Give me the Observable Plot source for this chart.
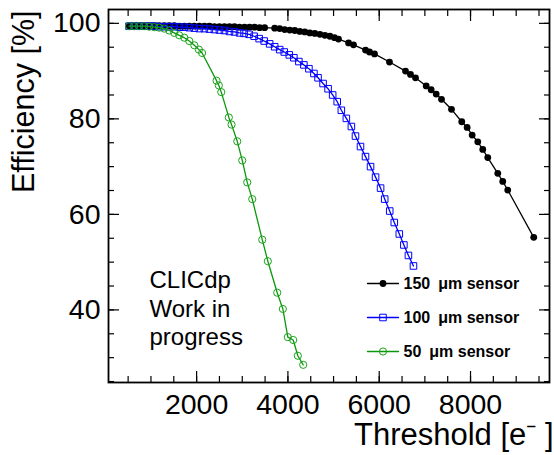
<!DOCTYPE html>
<html><head><meta charset="utf-8">
<script src="https://cdn.jsdelivr.net/npm/d3@7"></script>
<script src="https://cdn.jsdelivr.net/npm/@observablehq/plot@0.6"></script>
<style>
html,body{margin:0;padding:0;background:#fff;}
</style></head><body><div id="chart"></div>
<script>
// ---- data ----
const thr150 = [520,630,740,850,960,1070,1180,1290,1400,1510,1620,1730,1840,1950,2060,2170,2280,2390,2500,2610,2720,2830,2940,3050,3160,3270,3380,3490,3710,3820,3930,4040,4150,4260,4370,4480,4590,4700,4810,4920,5020,5108,5329,5437,5700,5787,5897,6225,6576,6685,6795,7029,7138,7248,7364,7583,7808,7926,8036,8159,8268,8378,8597,8706,8815,9385];
const eff150 = [99.5,99.5,99.5,99.5,99.5,99.5,99.5,99.5,99.5,99.5,99.4,99.4,99.4,99.4,99.4,99.4,99.4,99.3,99.3,99.3,99.3,99.3,99.2,99.2,99.2,99.2,99.1,99.1,99.0,98.9,98.7,98.6,98.5,98.3,98.2,98.0,97.9,97.7,97.5,97.3,97.0,96.7,95.9,95.5,94.4,94.0,93.6,91.9,90.0,89.3,88.6,86.9,86.1,85.2,84.1,82.0,79.4,78.2,76.6,75.2,73.6,71.9,68.6,66.9,65.1,55.2];

const thr100 = [520,630,740,850,960,1070,1180,1290,1400,1510,1620,1730,1840,1950,2060,2170,2280,2390,2500,2610,2720,2830,2940,3040,3150,3260,3370,3480,3600,3710,3820,3920,4030,4130,4240,4350,4460,4570,4660,4770,4880,4980,5080,5170,5280,5390,5480,5590,5700,5810,5920,6030,6120,6230,6330,6440,6540,6640,6750];
const eff100 = [99.4,99.4,99.4,99.4,99.4,99.4,99.3,99.3,99.3,99.3,99.2,99.2,99.1,99.0,98.9,98.9,98.8,98.7,98.6,98.5,98.3,98.2,98.0,97.9,97.7,97.3,96.8,96.3,95.7,95.1,94.5,94.0,93.4,92.8,92.0,91.3,90.5,89.5,88.6,87.4,86.3,85.0,83.6,81.8,80.1,78.4,76.4,74.2,72.1,70.0,67.8,65.5,63.2,60.7,58.3,55.9,53.6,51.4,49.2];

const thr50 = [520,630,740,850,960,1070,1180,1290,1400,1510,1620,1730,1840,1950,2050,2120,2437,2487,2540,2706,2765,2890,3000,3109,3219,3438,3560,3766,3889,3998,4116,4217,4335];
const eff50 = [99.4,99.4,99.4,99.4,99.3,99.2,99.1,98.9,98.5,98.0,97.5,97.0,96.3,95.4,94.5,93.8,88.0,87.0,85.6,80.3,78.8,75.3,71.3,66.7,63.2,54.7,50.2,43.6,40.2,34.3,33.7,30.4,28.5];

const seriesNames = ["150\u2002\u03bcm sensor", "100\u2002\u03bcm sensor", "50\u2002\u03bcm sensor"];
const xMajorTicks = [2000, 4000, 6000, 8000];
const xMinorTicks = [500,1000,1500,2000,2500,3000,3500,4000,4500,5000,5500,6000,6500,7000,7500,8000,8500,9000,9500];
const yMajorTicks = [40, 60, 80, 100];
const yMinorTicks = [25,30,35,40,45,50,55,60,65,70,75,80,85,90,95,100];
const noteLines = ["CLICdp", "Work in", "progress"];
const xTitle = "Threshold [e\u207b ]";
const yTitle = "Efficiency [%]";

// ---- styles ----
const styles = [
  {color: "#000000", symbol: "circle", fill: "#000000", stroke: "none", r: 3.4},
  {color: "#0000ff", symbol: "square", fill: "none", stroke: "#0000ff", r: 3.7},
  {color: "#0b990b", symbol: "circle", fill: "none", stroke: "#1aa31a", r: 3.6}
];
const seriesData = [[thr150, eff150], [thr100, eff100], [thr50, eff50]].map(([t, e], k) =>
  t.map((v, i) => ({series: seriesNames[k], thr: v, eff: e[i]})));

const hline = {draw(ctx, l) { ctx.moveTo(-l / 2, 0); ctx.lineTo(l / 2, 0); }};

const seriesMarks = seriesData.flatMap((rows, k) => {
  const s = styles[k];
  return [
    Plot.line(rows, {x: "thr", y: "eff", stroke: s.color, strokeWidth: 1.3}),
    Plot.dot(rows, {x: "thr", y: "eff", symbol: s.symbol, r: s.r, fill: s.fill, stroke: s.stroke, strokeWidth: 1})
  ];
});

const legendMarks = seriesNames.flatMap((name, k) => {
  const s = styles[k];
  const dy = 274 + k * 34;
  return [
    Plot.vector([name], {frameAnchor: "top-left", dx: 274.5, dy, length: 31, anchor: "start", shape: hline, stroke: s.color, strokeWidth: 1.3}),
    Plot.dot([name], {frameAnchor: "top-left", dx: 274.5, dy, symbol: s.symbol, r: s.r, fill: s.fill, stroke: s.stroke, strokeWidth: 1}),
    Plot.text([name], {frameAnchor: "top-left", dx: 295, dy, textAnchor: "start", lineAnchor: "middle", fontWeight: "bold", fontSize: 16, fill: "#000"})
  ];
});

const fmt = d => String(d);

const chart = Plot.plot({
  width: 554,
  height: 455,
  marginLeft: 108,
  marginRight: 5,
  marginTop: 9,
  marginBottom: 73,
  style: {fontFamily: "'Liberation Sans', Arial, Helvetica, sans-serif", background: "#fff", color: "#000"},
  x: {domain: [70, 9730], axis: null},
  y: {domain: [24.8, 102.9], axis: null},
  marks: [
    ...seriesMarks,
    // tick marks (inside the frame, all four sides)
    Plot.axisX(xMinorTicks, {anchor: "bottom", tickSize: 6, dy: -6, fill: "none", label: null, strokeWidth: 1.2}),
    Plot.axisX(xMajorTicks, {anchor: "bottom", tickSize: 11, dy: -11, fill: "none", label: null, strokeWidth: 1.2}),
    Plot.axisX(xMinorTicks, {anchor: "top", tickSize: 6, dy: 6, fill: "none", label: null, strokeWidth: 1.2}),
    Plot.axisX(xMajorTicks, {anchor: "top", tickSize: 11, dy: 11, fill: "none", label: null, strokeWidth: 1.2}),
    Plot.axisY(yMinorTicks, {anchor: "left", tickSize: 6, dx: 6, fill: "none", label: null, strokeWidth: 1.2}),
    Plot.axisY(yMajorTicks, {anchor: "left", tickSize: 11, dx: 11, fill: "none", label: null, strokeWidth: 1.2}),
    Plot.axisY(yMinorTicks, {anchor: "right", tickSize: 6, dx: -6, fill: "none", label: null, strokeWidth: 1.2}),
    Plot.axisY(yMajorTicks, {anchor: "right", tickSize: 11, dx: -11, fill: "none", label: null, strokeWidth: 1.2}),
    // tick labels
    Plot.axisX(xMajorTicks, {anchor: "bottom", tickSize: 0, tickPadding: 11, fontSize: 28.5, tickFormat: fmt, label: null, stroke: "none"}),
    Plot.axisY(yMajorTicks, {anchor: "left", tickSize: 0, tickPadding: 8, fontSize: 28.5, tickFormat: fmt, label: null, stroke: "none"}),
    Plot.frame({stroke: "#000", strokeWidth: 1.8}),
    // axis titles
    Plot.text([yTitle], {frameAnchor: "top-left", rotate: -90, textAnchor: "end", lineAnchor: "middle", dx: -84, dy: 1, fontSize: 30.5, fill: "#000"}),
    Plot.text([xTitle], {frameAnchor: "bottom-right", textAnchor: "end", lineAnchor: "middle", dx: 4, dy: 53, fontSize: 31, fill: "#000"}),
    // annotation
    Plot.text([noteLines.join("\n")], {frameAnchor: "top-left", textAnchor: "start", lineAnchor: "top", dx: 41, dy: 259, fontSize: 24, lineHeight: 1.17, fill: "#000"}),
    ...legendMarks
  ]
});
document.getElementById("chart").appendChild(chart);
</script>
</body></html>
